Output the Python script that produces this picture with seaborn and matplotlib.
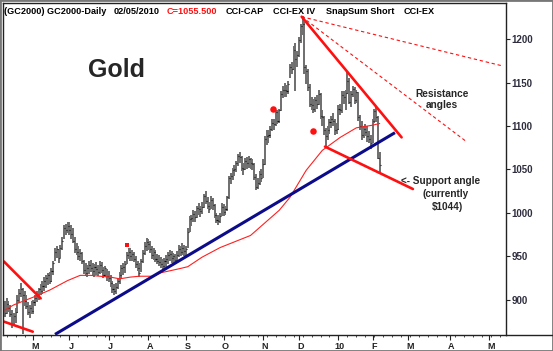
import numpy as np
import matplotlib
matplotlib.use("Agg")
import matplotlib.pyplot as plt
import matplotlib.transforms as mtransforms
from matplotlib.patches import Rectangle
from matplotlib.lines import Line2D
import seaborn as sns

sns.set_style("white")
plt.rcParams['font.family'] = ['Liberation Sans', 'DejaVu Sans']

# ------------ daily bars, Apr 8 2009 .. Feb 5 2010 (trading-day index) ------------ #
high = [898, 902, 899, 894, 888, 885, 890, 905, 912, 919, 914, 910, 905, 897, 894, 898,
        900, 905, 910, 914, 918, 922, 926, 928, 931, 932, 936, 945, 960, 962, 958, 963, 972, 986, 987, 990,
        989, 986, 982, 972, 965, 962, 958, 955, 946, 942, 940, 944, 946, 942, 941, 943, 940, 944, 943, 938, 939, 935,
        933, 928, 922, 918, 919, 925, 932, 940, 942, 945, 955, 960, 959, 957, 955, 950, 945, 942, 947, 957, 966, 971,
        970, 968, 962, 960, 957, 953, 951, 949, 947, 948, 951, 955, 957, 956, 954, 953, 956, 963, 962, 965, 963,
        962, 982, 996, 998, 1003, 1002, 1008, 1011, 1008, 1012, 1022, 1025, 1018, 1012, 1019, 1017, 1010, 1000, 998, 1000, 1011,
        1010, 1008, 1020, 1042, 1046, 1052, 1055, 1060, 1068, 1070, 1065, 1058, 1063, 1064, 1066, 1063, 1062, 1058, 1045, 1040, 1048, 1050,
        1062, 1088, 1095, 1096, 1100, 1108, 1108, 1119, 1118, 1120, 1140, 1146, 1150, 1147, 1152, 1172, 1174, 1192, 1196, 1186,
        1203, 1218, 1227, 1220, 1170, 1166, 1148, 1133, 1131, 1134, 1136, 1141, 1138, 1118, 1112, 1098, 1100, 1108, 1112, 1115, 1108, 1104,
        1124, 1126, 1140, 1140, 1142, 1163, 1155, 1140, 1146, 1145, 1142, 1139, 1113, 1106, 1100, 1102, 1100, 1094, 1090,
        1108, 1120, 1123, 1112, 1070]
low = [880, 883, 886, 880, 867, 870, 873, 885, 896, 903, 861, 893, 889, 882, 879, 884,
       884, 893, 897, 900, 905, 907, 910, 914, 917, 918, 920, 928, 944, 948, 942, 948, 957, 970, 974, 977,
       974, 970, 965, 954, 951, 946, 944, 941, 930, 927, 926, 930, 932, 929, 926, 929, 927, 930, 931, 925, 926, 922,
       920, 915, 908, 905, 906, 912, 918, 925, 928, 931, 941, 947, 945, 944, 943, 937, 933, 926, 932, 942, 951, 956,
       957, 954, 947, 946, 943, 941, 939, 937, 935, 936, 938, 941, 944, 942, 941, 942, 943, 949, 950, 951, 950,
       950, 960, 978, 985, 989, 990, 994, 998, 995, 999, 1006, 1010, 1004, 1000, 1005, 1003, 994, 988, 986, 988, 996,
       996, 997, 1002, 1016, 1033, 1038, 1043, 1047, 1054, 1057, 1048, 1044, 1049, 1051, 1052, 1050, 1049, 1038, 1026, 1027, 1032, 1036,
       1040, 1055, 1078, 1080, 1086, 1094, 1096, 1100, 1102, 1103, 1117, 1132, 1134, 1133, 1137, 1155, 1160, 1165, 1140, 1168,
       1180, 1196, 1205, 1160, 1148, 1140, 1122, 1118, 1115, 1116, 1120, 1124, 1108, 1100, 1090, 1075, 1084, 1091, 1098, 1100, 1090, 1091,
       1095, 1113, 1115, 1125, 1118, 1137, 1125, 1122, 1133, 1125, 1127, 1106, 1096, 1084, 1086, 1088, 1082, 1080, 1074,
       1080, 1104, 1105, 1062, 1045]
close = [885, 895, 890, 884, 872, 881, 886, 900, 908, 912, 905, 898, 893, 886, 890, 887,
         897, 902, 905, 912, 910, 916, 922, 925, 928, 922, 933, 942, 955, 958, 948, 960, 968, 982, 980, 985,
         980, 976, 968, 958, 955, 950, 954, 945, 934, 931, 936, 940, 937, 933, 938, 935, 932, 940, 934, 929, 936, 927,
         925, 919, 912, 910, 915, 921, 929, 936, 938, 941, 952, 955, 950, 953, 947, 941, 936, 931, 944, 954, 962, 966,
         964, 958, 951, 955, 947, 945, 943, 941, 939, 945, 947, 951, 953, 948, 950, 946, 952, 958, 955, 960, 956,
         958, 978, 993, 994, 999, 995, 1006, 1005, 1002, 1007, 1019, 1014, 1008, 1004, 1015, 1009, 998, 992, 991, 996, 1007,
         1001, 1004, 1018, 1040, 1042, 1049, 1050, 1057, 1065, 1064, 1052, 1050, 1060, 1057, 1062, 1058, 1056, 1041, 1030, 1034, 1045, 1040,
         1056, 1085, 1088, 1090, 1097, 1103, 1102, 1116, 1106, 1118, 1137, 1141, 1142, 1140, 1149, 1168, 1166, 1188, 1177, 1182,
         1199, 1215, 1218, 1168, 1163, 1145, 1126, 1124, 1120, 1130, 1126, 1137, 1112, 1110, 1095, 1088, 1095, 1105, 1108, 1106, 1095, 1097,
         1120, 1118, 1136, 1133, 1138, 1152, 1128, 1137, 1143, 1130, 1139, 1111, 1100, 1090, 1097, 1093, 1088, 1085, 1081,
         1106, 1117, 1111, 1063, 1055]

# moving average
ma_idx = [0, 5, 16, 25, 35, 42, 48, 53, 59, 64, 70, 75, 83, 87, 98, 102, 110, 120, 137, 153, 159, 168, 177, 187, 196, 205, 209]
ma_val = [888, 894, 903, 911, 922, 928, 928, 927, 926, 924, 926, 927, 927, 931, 936, 938, 949, 960, 974, 1003, 1018, 1049, 1072, 1087, 1098, 1101, 1103]

# hand-drawn trend lines: (index, price) anchors
blue_support = ([28, 217.5], [860, 1092.4])
resistance = ([165.5, 221.2], [1226, 1087])
resist_dash1 = ([165.5, 277.7], [1226, 1169.2])
resist_dash2 = ([165.5, 257.6], [1226, 1081.7])
support_angle = ([178.5, 227.5], [1076.3, 1027.5])
left_upper = ([-0.5, 20], [944, 901.5])
left_lower = ([-0.5, 15.6], [874.7, 863.1])

# signal dots
dot_idx = [149.5, 171.8]
dot_val = [1119.6, 1094.4]

month_idx = [16, 36, 58, 80, 101, 122, 144, 164, 186, 205, 225, 248, 270]
month_lbl = ['M', 'J', 'J', 'A', 'S', 'O', 'N', 'D', '10', 'F', 'M', 'A', 'M']
price_ticks = [900, 950, 1000, 1050, 1100, 1150, 1200]

W, H = 553, 351
fig = plt.figure(figsize=(W / 100, H / 100), dpi=100)
ax = fig.add_axes([3 / W, 16 / H, 503 / W, 332 / H])

idx = np.arange(len(high))
ax.vlines(idx, low, high, color='#6e6e6e', lw=1.4)
ax.hlines(close, idx, idx + 0.6, color='#111111', lw=0.8)

sns.lineplot(x=ma_idx, y=ma_val, ax=ax, color='#ff2020', lw=0.8, estimator=None, sort=False)

ax.plot(*blue_support, color='#0c0c8a', lw=2.2, solid_capstyle='butt')
ax.plot(*resistance, color='#ff1010', lw=1.9)
ax.plot(*resist_dash1, color='#ff1010', lw=0.8, ls=(0, (3, 2.5)))
ax.plot(*resist_dash2, color='#ff1010', lw=0.8, ls=(0, (3, 2.5)))
ax.plot(*support_angle, color='#ff1010', lw=1.9)
ax.plot(*left_upper, color='#ff1010', lw=1.9)
ax.plot(*left_lower, color='#ff1010', lw=1.9)
ax.scatter(dot_idx, dot_val, s=22, color='#ff1010', zorder=5, linewidths=0)
ax.scatter([68.2], [963], s=5, marker='s', color='#ff1010', zorder=5, linewidths=0)

ax.set_xlim(-1.0, 279.4)
ax.set_ylim(859.3, 1241.8)

# axes styling
for s in ax.spines.values():
    s.set_color('#222222')
    s.set_linewidth(1.0)
ax.yaxis.tick_right()
ax.set_yticks(price_ticks)
ax.set_yticklabels([str(p) for p in price_ticks])
ax.tick_params(axis='y', direction='out', length=3, width=0.8, color='#222222',
               labelsize=7, labelcolor='#2e2e3e', pad=1, right=True, left=False)
ax.set_xticks(month_idx)
ax.set_xticklabels(month_lbl)
ax.set_xticks(np.arange(1, 279, 5), minor=True)
ax.tick_params(axis='x', which='major', direction='out', length=3.5, width=0.8, color='#222222',
               labelsize=6.5, labelcolor='#222222', pad=1.5, bottom=True)
ax.tick_params(axis='x', which='minor', direction='out', length=1.5, width=0.7, color='#444444', bottom=True)
for t in ax.get_xticklabels() + ax.get_yticklabels():
    t.set_fontweight('bold')
shift = mtransforms.ScaledTranslation(1.5 / 100, 0, fig.dpi_scale_trans)
for t in ax.get_xticklabels():
    t.set_transform(t.get_transform() + shift)


def px(x, y):
    return x / W, 1 - y / H


# header line
hdr = [(3.5, '(GC2000) GC2000-Daily', 'black'), (113.6, '02/05/2010', 'black'),
       (166.8, 'C=1055.500', '#ff1010'), (225.7, 'CCI-CAP', 'black'),
       (272.7, 'CCI-EX IV', 'black'), (326.3, 'SnapSum Short', 'black'), (403.9, 'CCI-EX', 'black')]
for x, s, c in hdr:
    fig.text(*px(x, 11.5), s, color=c, fontsize=6.6, fontweight='bold', va='center', ha='left')

fig.text(*px(88, 77), 'Gold', fontsize=18, fontweight='bold', va='baseline', ha='left')
fig.text(*px(442, 94), 'Resistance', fontsize=7.3, fontweight='bold', va='center', ha='center')
fig.text(*px(442, 104.5), 'angles', fontsize=7.3, fontweight='bold', va='center', ha='center')
fig.text(*px(401, 181), '<- Support angle', fontsize=7.2, fontweight='bold', va='center', ha='left')
fig.text(*px(446, 194), '(currently', fontsize=7.2, fontweight='bold', va='center', ha='center')
fig.text(*px(447, 207), '$1044)', fontsize=7.2, fontweight='bold', va='center', ha='center')

# frame bits outside the axes
fig.add_artist(Line2D([506 / W, 1], [16 / H, 16 / H], transform=fig.transFigure, color='#222222', lw=1.0))
fig.add_artist(Rectangle((0, 0), 1, 1, transform=fig.transFigure, fill=False, edgecolor='#777777', lw=2.0))

fig.savefig('out.png', dpi=100)
